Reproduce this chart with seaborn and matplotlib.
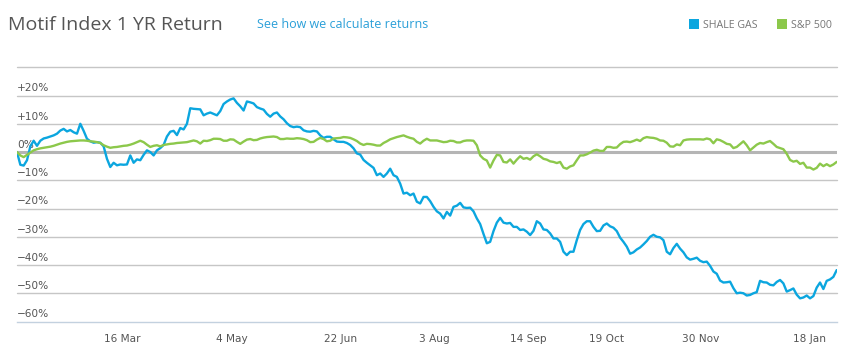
import numpy as np
import pandas as pd
import matplotlib
matplotlib.use("Agg")
import matplotlib.pyplot as plt
from matplotlib.patches import Rectangle
import seaborn as sns

# ---------------- data ----------------
start_date = "2015-01-28"
end_date = "2016-01-30"

shale_gas = [
    0, -4.5, -4.8, -2.9, 2.0, 4.0, 2.2, 4.0, 4.8, 5.1,
    5.5, 5.9, 6.5, 7.6, 8.2, 7.3, 7.8, 7.0, 6.5, 10.0,
    7.5, 4.7, 3.8, 3.3, 3.5, 3.3, 2.0, -2.4, -5.3, -3.8,
    -4.7, -4.4, -4.5, -4.4, -1.2, -3.8, -2.6, -2.9, -1.0, 0.6,
    0, -1.2, 0.6, 1.4, 2.5, 5.5, 7.2, 7.5, 6.0, 8.5,
    8.0, 10.0, 15.5, 15.3, 15.2, 15.1, 13.0, 13.6, 14.0, 13.5,
    13.0, 14.5, 17.0,
    17.9, 18.6, 19.0, 17.4, 16.2, 14.7, 17.9, 17.6, 17.2, 15.9,
    15.4, 15.0, 13.5, 12.5, 13.6, 14.0, 12.6, 11.6, 10.2, 9.2,
    8.8, 9.0, 8.8, 7.7, 7.3, 7.2, 7.5, 7.3, 5.9, 5.0,
    5.4, 5.4, 4.5, 3.7, 3.6, 3.6, 3.2, 2.5, 1.3, -0.5,
    -0.9, -2.8, -3.8, -4.7, -5.6, -8.2, -7.6, -8.8, -7.6, -5.9,
    -8.2, -8.8, -11.2, -14.7, -14.4, -15.3, -14.7, -17.6, -18.2, -15.9,
    -15.9,
    -17.4, -19.4, -21.0, -21.8, -23.5, -21.2, -22.5, -19.4, -19.0, -18.0,
    -19.6, -19.8, -19.7, -21.0, -23.5, -25.5, -29.0, -32.3, -31.8, -28.0,
    -25.0, -23.3, -25.0, -25.3, -25.1, -26.5, -26.5, -27.6, -27.4, -28.2,
    -29.4, -27.9, -24.5, -25.3, -27.4, -27.6, -28.8, -30.6, -30.6, -31.8,
    -35.3, -36.5, -35.3, -35.3, -31.2, -27.6, -25.5, -24.5, -24.5, -26.5,
    -28.0, -27.9, -26.0, -25.3, -26.3, -26.8, -28.0, -30.3, -31.8, -33.5,
    -36.0, -35.5,
    -34.5, -33.8, -32.7, -31.5, -30.0, -29.3, -30.0, -30.2, -31.2, -35.3,
    -36.2, -34.0, -32.5, -34.2, -35.5, -37.3, -38.1, -37.8, -37.4, -38.5,
    -39.0, -38.8, -40.3, -42.3, -43.1, -45.5, -46.2, -46.1, -45.9, -48.2,
    -50.0, -49.8, -50.0, -50.8, -50.6, -50.0, -49.6, -45.6, -46.1, -46.2,
    -47.0, -47.2, -46.0, -45.3, -46.5, -49.4, -48.9, -48.3, -50.5, -51.8,
    -51.5, -50.8, -51.8, -51.0, -48.0, -46.2, -48.5, -45.6, -45.1, -44.2,
    -41.8,
]

sp500 = [
    0, -1.2, -1.8, -1.0, -0.2, 0.6, 1.0, 1.3, 1.5, 1.7,
    1.9, 2.2, 2.6, 3.0, 3.3, 3.6, 3.8, 3.9, 4.0, 4.1,
    4.1, 4.0, 3.8, 3.7, 3.5, 3.2, 2.4, 1.9, 1.5, 1.7,
    1.8, 2.0, 2.2, 2.3, 2.6, 3.0, 3.5, 4.0, 3.5, 2.6,
    1.8, 2.2, 2.4, 2.0, 2.5, 2.7, 2.9, 3.0, 3.2, 3.3,
    3.4, 3.5, 3.8, 4.1, 3.8, 3.0, 4.0, 3.9, 4.2, 4.7,
    4.7, 4.6, 4.0,
    4.0, 4.5, 4.4, 3.6, 2.9, 3.7, 4.4, 4.6, 4.2, 4.3,
    4.8, 5.1, 5.3, 5.4, 5.5, 5.3, 4.6, 4.6, 4.8, 4.7,
    4.7, 4.9, 4.8, 4.6, 4.2, 3.5, 3.6, 4.4, 5.0, 4.6,
    3.8, 4.0, 4.8, 4.9, 5.0, 5.3, 5.2, 5.0, 4.5, 3.9,
    3.0, 2.5, 2.9, 2.8, 2.6, 2.3, 2.3, 3.2, 3.8, 4.5,
    4.9, 5.3, 5.6, 5.9, 5.4, 5.0, 4.7, 3.6, 3.0, 4.0,
    4.7,
    4.1, 4.1, 4.1, 3.8, 3.5, 3.6, 4.0, 3.9, 3.4, 3.4,
    3.9, 4.1, 4.1, 4.0, 2.4, -1.2, -2.4, -3.0, -5.5, -3.0,
    -1.0, -1.2, -3.5, -3.7, -2.6, -4.1, -2.7, -1.5, -2.4, -2.1,
    -2.7, -1.5, -0.8, -1.5, -2.4, -2.7, -3.3, -3.5, -3.9, -3.5,
    -5.5, -5.9, -5.1, -4.7, -2.9, -1.2, -1.2, -0.8, -0.2, 0.5,
    0.8, 0.4, 0.4, 1.8, 1.8, 1.5, 1.6, 2.8, 3.6, 3.7,
    3.5, 3.9,
    4.4, 3.9, 4.9, 5.3, 5.1, 5.0, 4.7, 4.1, 4.0, 3.3,
    2.0, 1.9, 2.7, 2.4, 4.1, 4.4, 4.5, 4.5, 4.5, 4.5,
    4.4, 4.8, 4.5, 3.1, 4.5, 4.2, 3.6, 2.9, 2.7, 1.4,
    1.8, 2.8, 3.8, 2.4, 0.6, 1.6, 2.6, 3.2, 3.0, 3.5,
    3.9, 2.9, 1.8, 1.4, 1.0, -0.6, -2.8, -3.4, -3.1, -4.2,
    -3.8, -5.5, -5.5, -6.2, -5.6, -4.1, -5.0, -4.3, -5.0, -4.4,
    -3.5,
]

series_names = ["SHALE GAS", "S&P 500"]
series_colors = ["#0ba6df", "#8cc84b"]

tick_dates = ["2015-03-16", "2015-05-04", "2015-06-22", "2015-08-03",
              "2015-09-14", "2015-10-19", "2015-11-30", "2016-01-18"]
tick_labels = ["16 Mar", "4 May", "22 Jun", "3 Aug", "14 Sep", "19 Oct", "30 Nov", "18 Jan"]

y_ticks = [-60, -50, -40, -30, -20, -10, 0, 10, 20]
y_labels = ["\u221260%", "\u221250%", "\u221240%", "\u221230%", "\u221220%",
            "\u221210%", "0%", "+10%", "+20%"]

# ---------------- build frame ----------------
n = min(len(shale_gas), len(sp500))
dates = pd.date_range(start_date, end_date, periods=n)
df = pd.concat([
    pd.DataFrame({"date": dates, "value": shale_gas[:n], "series": series_names[0]}),
    pd.DataFrame({"date": dates, "value": sp500[:n], "series": series_names[1]}),
])

# ---------------- plot ----------------
sns.set_style("white")
plt.rcParams["font.family"] = ["DejaVu Sans"]

W, H = 855, 356
fig = plt.figure(figsize=(W / 100, H / 100), dpi=100)
ax_left, ax_right = 17 / W, 836.7 / W
ax_top, ax_bottom = 1 - 67.3 / H, 1 - 321.5 / H
ax = fig.add_axes([ax_left, ax_bottom, ax_right - ax_left, ax_top - ax_bottom])

grid_color = "#c6c6c6"
for v in [-50, -40, -30, -20, -10, 10, 20, 30]:
    ax.axhline(v, color=grid_color, lw=1.0, zorder=0, clip_on=False)
ax.axhline(0, color="#b5b5b5", lw=2.2, zorder=0.5)

sns.lineplot(data=df, x="date", y="value", hue="series",
             palette=dict(zip(series_names, series_colors)),
             linewidth=1.7, legend=False, ax=ax, zorder=3)

ax.set_xlim(dates[0], dates[-1])
ax.set_ylim(-60, 30)
ax.set_xlabel("")
ax.set_ylabel("")

for s in ["top", "right", "left"]:
    ax.spines[s].set_visible(False)
ax.spines["bottom"].set_color("#c3d1df")
ax.spines["bottom"].set_linewidth(1.0)

ax.set_xticks(pd.to_datetime(tick_dates))
ax.set_xticklabels(tick_labels)
ax.tick_params(axis="x", length=6.5, width=1.0, color="#c3d1df",
               labelsize=7.6, labelcolor="#555555", pad=2.5, direction="out")

ax.set_yticks(y_ticks)
ax.set_yticklabels(y_labels)
ax.tick_params(axis="y", length=0, pad=0, labelsize=7.6, labelcolor="#555555")
for lab in ax.get_yticklabels():
    lab.set_horizontalalignment("left")
    lab.set_verticalalignment("bottom")

# offset y labels slightly above their gridline
import matplotlib.transforms as mtransforms
offset = mtransforms.ScaledTranslation(0, 1.5 / 72, fig.dpi_scale_trans)
for lab in ax.get_yticklabels():
    lab.set_transform(lab.get_transform() + offset)

# ---------------- header ----------------
fig.text(8 / W, 1 - 30 / H, "Motif Index 1 YR Return", fontsize=14,
         family=["Open Sans", "DejaVu Sans"], color="#555555", va="baseline", ha="left")
fig.text(257 / W, 1 - 28.5 / H, "See how we calculate returns", fontsize=9,
         family=["Open Sans", "DejaVu Sans"], color="#2a9fd8", va="baseline", ha="left")

legend_x = [689.3, 777.3]
legend_tx = [703, 790.7]
for name, col, px, tx in zip(series_names, series_colors, legend_x, legend_tx):
    fig.patches.append(Rectangle((px / W, 1 - 29 / H), 9.3 / W, 9.5 / H,
                                 transform=fig.transFigure, facecolor=col,
                                 edgecolor="none"))
    fig.text(tx / W, 1 - 28.5 / H, name, fontsize=7.7,
             family=["Open Sans", "DejaVu Sans"], color="#777777",
             va="baseline", ha="left")

fig.savefig("out.png", dpi=100)
